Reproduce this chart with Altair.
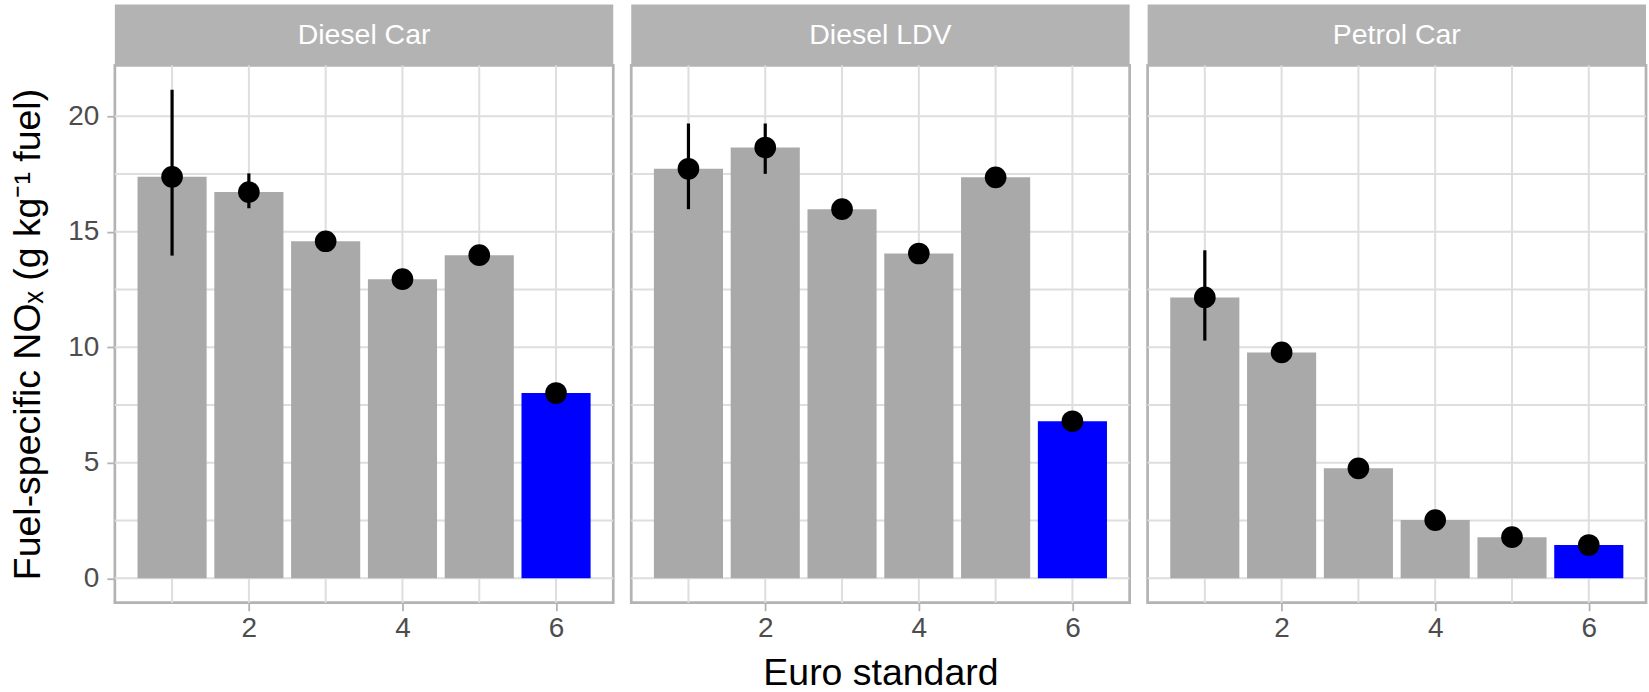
import altair as alt
import pandas as pd

# Fuel-specific NOx by Euro standard, one panel per vehicle type
panels = ["Diesel Car", "Diesel LDV", "Petrol Car"]
euro = [1, 2, 3, 4, 5, 6]

nox_diesel_car = [17.38, 16.72, 14.59, 12.95, 13.99, 8.02]
nox_diesel_ldv = [17.73, 18.65, 15.98, 14.06, 17.36, 6.80]
nox_petrol_car = [12.16, 9.78, 4.76, 2.52, 1.78, 1.44]

# uncertainty ranges (only where they extend beyond the point)
lo_diesel_car = [13.97, 16.02, None, None, None, None]
hi_diesel_car = [21.15, 17.53, None, None, None, None]
lo_diesel_ldv = [15.98, 17.51, None, None, None, None]
hi_diesel_ldv = [19.69, 19.69, None, None, None, None]
lo_petrol_car = [10.29, None, None, None, None, None]
hi_petrol_car = [14.20, None, None, None, None, None]

highlight_euro = 6

y_major = [0, 5, 10, 15, 20]
y_minor = [2.5, 7.5, 12.5, 17.5]
x_lines = [1, 2, 3, 4, 5, 6]
x_ticks = [2, 4, 6]

series = [
    (nox_diesel_car, lo_diesel_car, hi_diesel_car),
    (nox_diesel_ldv, lo_diesel_ldv, hi_diesel_ldv),
    (nox_petrol_car, lo_petrol_car, hi_petrol_car),
]

W, H = 499, 538
STRIP = 61
FONT = "Liberation Sans"
HALF = 0.45  # half bar width, in Euro-standard units

# ggplot-like 5% expansion of the data range
all_hi = [v for s in series for v in s[0] + [h for h in s[2] if h is not None]]
y_lo, y_hi = 0.0, max(all_hi)
y_pad = 0.05 * (y_hi - y_lo)
y_domain = [y_lo - y_pad, y_hi + y_pad]
x_lo, x_hi = min(euro) - HALF, max(euro) + HALF
x_pad = 0.05 * (x_hi - x_lo)
x_domain = [x_lo - x_pad, x_hi + x_pad]

Y_TITLE = "Fuel-specific NO\u2093 (g kg\u207b\u00b9 fuel)"


def panel(i):
    name = panels[i]
    vals, lo, hi = series[i]
    first = i == 0
    middle = i == 1

    xs = alt.Scale(domain=x_domain, nice=False, zero=False)
    ys = alt.Scale(domain=y_domain, nice=False, zero=False)
    xaxis = alt.Axis(values=x_ticks, grid=False, title="Euro standard" if middle else "",
                     titlePadding=12)
    if first:
        yaxis = alt.Axis(values=y_major, grid=False, title=Y_TITLE, titlePadding=20,
                         labelPadding=8)
        ykw = {"axis": yaxis}
    else:
        ykw = {"axis": None}

    def X(field, **kw):
        return alt.X(field, type="quantitative", scale=xs, axis=xaxis, **kw)

    def Y(field, **kw):
        return alt.Y(field, type="quantitative", scale=ys, **ykw, **kw)

    df = pd.DataFrame({"euro": euro, "nox": vals, "lo": lo, "hi": hi, "panel": name})
    df["group"] = ["highlight" if e == highlight_euro else "other" for e in euro]

    hgrid = alt.Chart(pd.DataFrame({"nox": y_major + y_minor})).mark_rule(
        color="#DEDEDE", strokeWidth=2
    ).encode(y=Y("nox"), x=alt.value(0), x2=alt.value(W))

    vgrid = alt.Chart(pd.DataFrame({"euro": x_lines})).mark_rule(
        color="#DEDEDE", strokeWidth=2
    ).encode(x=X("euro"), y=alt.value(0), y2=alt.value(H))

    bars = alt.Chart(df).transform_calculate(
        x0=f"datum.euro - {HALF}", x1=f"datum.euro + {HALF}", base="0"
    ).mark_bar().encode(
        x=X("x0"),
        x2="x1:Q",
        y=Y("nox"),
        y2="base:Q",
        color=alt.Color("group:N", legend=None,
                        scale=alt.Scale(domain=["other", "highlight"],
                                        range=["#A9A9A9", "#0000FF"])),
    )

    errs = alt.Chart(df).transform_filter("isValid(datum.lo)").mark_rule(
        color="black", strokeWidth=3.2
    ).encode(x=X("euro"), y=Y("lo"), y2="hi:Q")

    dots = alt.Chart(df).mark_circle(size=470, color="black", opacity=1).encode(
        x=X("euro"), y=Y("nox")
    )

    strip_df = pd.DataFrame({"panel": [name]})
    strip_bg = alt.Chart(strip_df).mark_rect(color="#B3B3B3").encode(
        x=alt.value(0), x2=alt.value(W), y=alt.value(-STRIP), y2=alt.value(0)
    )
    strip_txt = alt.Chart(strip_df).mark_text(
        color="white", font=FONT, fontSize=28.5, baseline="middle", align="center"
    ).encode(text="panel:N", x=alt.value(W / 2), y=alt.value(-STRIP / 2))

    return alt.layer(hgrid, vgrid, bars, errs, dots, strip_bg, strip_txt).properties(
        width=W, height=H
    )


chart = alt.hconcat(*[panel(i) for i in range(3)], spacing=12).properties(
    padding={"left": 8, "top": 2, "right": 0, "bottom": 0},
    background="white",
).configure_view(
    stroke="#B3B3B3", strokeWidth=2.7
).configure_axis(
    domain=False,
    labelFont=FONT, labelFontSize=28, labelColor="#4D4D4D", labelPadding=4,
    tickColor="#B3B3B3", tickSize=8, tickWidth=1.8,
    titleFont=FONT, titleFontSize=37.5, titleColor="black", titleFontWeight="normal",
)

chart.save("out.html", embed_options={"renderer": "svg", "actions": False})
